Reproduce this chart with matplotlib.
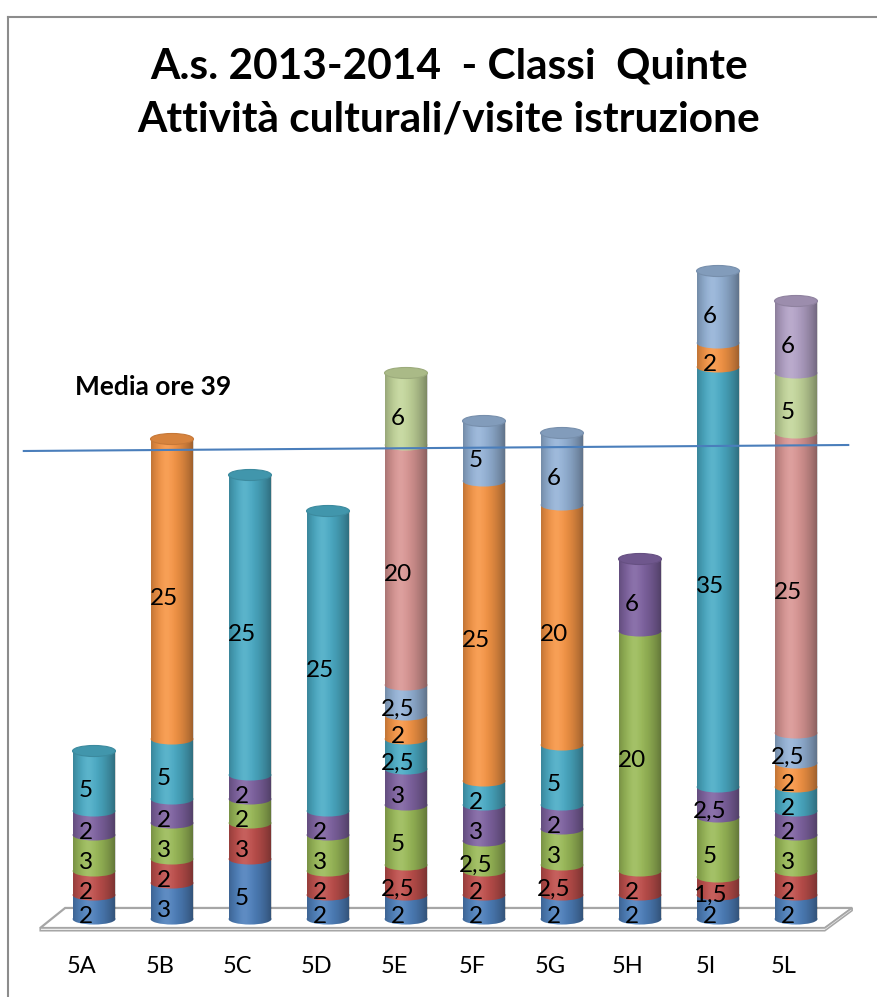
import numpy as np
import matplotlib
matplotlib.use('Agg')
import matplotlib.pyplot as plt
from matplotlib.patches import Ellipse, Polygon, PathPatch
from matplotlib.path import Path
from matplotlib.lines import Line2D
from matplotlib.transforms import ScaledTranslation
from matplotlib.colors import to_rgb

plt.rcParams['font.family'] = ['Lato', 'DejaVu Sans']

classi = ['5A', '5B', '5C', '5D', '5E', '5F', '5G', '5H', '5I', '5L']

# ore per voce, dal basso verso l'alto (0 = voce assente)
s_blu      = [2, 3, 5, 2, 2, 2, 2, 2, 2, 2]
s_rosso    = [2, 2, 3, 2, 2.5, 2, 2.5, 2, 1.5, 2]
s_verde    = [3, 3, 2, 3, 5, 2.5, 3, 20, 5, 3]
s_viola    = [2, 2, 2, 2, 3, 3, 2, 6, 2.5, 2]
s_acqua    = [5, 5, 25, 25, 2.5, 2, 5, 0, 35, 2]
s_arancio  = [0, 25, 0, 0, 2, 25, 20, 0, 2, 2]
s_celeste  = [0, 0, 0, 0, 2.5, 5, 6, 0, 6, 2.5]
s_rosa     = [0, 0, 0, 0, 20, 0, 0, 0, 0, 25]
s_verdino  = [0, 0, 0, 0, 6, 0, 0, 0, 0, 5]
s_lilla    = [0, 0, 0, 0, 0, 0, 0, 0, 0, 6]

media_ore = 39

serie = [s_blu, s_rosso, s_verde, s_viola, s_acqua,
         s_arancio, s_celeste, s_rosa, s_verdino, s_lilla]
colori = ['#4F81BD', '#C0504D', '#9BBB59', '#8064A2', '#4BACC6',
          '#F79646', '#95B3D7', '#D99694', '#C3D69B', '#B3A2C7']

W, H = 877, 997
fig = plt.figure(figsize=(W / 100, H / 100), dpi=100)
ax = fig.add_axes([8 / W, (H - 950) / H, (W - 8) / W, (950 - 160) / H])

x = np.arange(len(classi))
bw = 0.55          # larghezza cilindro
eb = 0.46          # semiasse minore ellissi (unita' y)

bottom = np.zeros(len(classi))
top_col = [None] * len(classi)
for vals, col in zip(serie, colori):
    vals = np.array(vals, dtype=float)
    ax.bar(x, vals, bw, bottom=bottom, color=col, linewidth=0, zorder=2)
    for i in range(len(classi)):
        if vals[i] > 0:
            ax.add_patch(Ellipse((x[i], bottom[i]), bw, 2 * eb, color=col,
                                 linewidth=0, zorder=2))
            top_col[i] = col
            lab = f"{vals[i]:g}".replace('.', ',')
            ax.annotate(lab, (x[i], bottom[i] + vals[i] / 2),
                        xytext=(-6, -7), textcoords='offset points',
                        ha='center', va='center', fontsize=17.5,
                        color='black', zorder=7)
    bottom += vals

totali = bottom

# ombreggiatura cilindrica
t = np.linspace(0, 1, 80)
dark = np.where(t < 0.38, 0.22 * ((0.38 - t) / 0.38) ** 2,
                0.38 * ((t - 0.38) / 0.62) ** 1.8)
light = 0.09 * np.exp(-((t - 0.36) / 0.17) ** 2)
img_dark = np.zeros((1, len(t), 4))
img_dark[0, :, 3] = dark
img_light = np.ones((1, len(t), 4))
img_light[0, :, 3] = light

th = np.linspace(0, -np.pi, 40)
for i in range(len(classi)):
    xl, xr = x[i] - bw / 2, x[i] + bw / 2
    verts = [(xl, 0), (xl, totali[i]), (xr, totali[i])]
    verts += list(zip(x[i] + bw / 2 * np.cos(th), eb * np.sin(th)))
    verts.append((xl, 0))
    clip = PathPatch(Path(verts), transform=ax.transData, facecolor='none',
                     edgecolor='none')
    ax.add_patch(clip)
    for img in (img_dark, img_light):
        im = ax.imshow(img, extent=[xl, xr, -eb, totali[i]], aspect='auto',
                       zorder=3, interpolation='bilinear')
        im.set_clip_path(clip)
    cap = np.array(to_rgb(top_col[i])) * 0.87
    ax.add_patch(Ellipse((x[i], totali[i]), bw, 2 * eb, facecolor=cap,
                         edgecolor=np.array(to_rgb(top_col[i])) * 0.8,
                         linewidth=0.8, zorder=4))

# pavimento
floor = Polygon([(-0.69, -0.75), (-0.37, 0.92), (9.72, 0.92), (9.37, -0.75)],
                closed=True, facecolor='white', edgecolor='#A6A6A6',
                linewidth=1.6, zorder=1)
ax.add_patch(floor)
ax.add_patch(Polygon([(-0.69, -0.75), (9.37, -0.75), (9.72, 0.92),
                      (9.72, 0.7), (9.37, -0.98), (-0.69, -0.98)],
                     closed=True, facecolor='#EDEDED', edgecolor='#A6A6A6',
                     linewidth=1.1, zorder=1))

# linea media
ax.plot([-0.9, 9.67], [media_ore, media_ore + 0.5], color='#4A7EBB',
        linewidth=1.5, zorder=6)

ax.set_xlim((8 - 94) / 78, (W - 94) / 78)
ax.set_ylim((919 - 950) / 12, (919 - 160) / 12)
ax.set_xticks(x, classi)
ax.set_yticks([])
ax.tick_params(axis='x', length=0, pad=4, labelsize=17)
off = ScaledTranslation(-12 / 100, 0, fig.dpi_scale_trans)
for tl in ax.get_xticklabels():
    tl.set_transform(tl.get_transform() + off)
for s in ax.spines.values():
    s.set_visible(False)
ax.patch.set_alpha(0)

fig.text(0.512, 1 - 78 / H, 'A.s. 2013-2014  - Classi  Quinte',
         ha='center', va='baseline', fontsize=30.5, fontweight='bold')
fig.text(0.512, 1 - 132 / H, 'Attività culturali/visite istruzione',
         ha='center', va='baseline', fontsize=30.5, fontweight='bold')
fig.text(75 / W, 1 - 395 / H, 'Media ore 39', ha='left', va='baseline',
         fontsize=19, fontweight='bold')

# cornice
fig.add_artist(Line2D([8 / W, 8 / W], [0, 1 - 17 / H], transform=fig.transFigure,
                      color='#8C8C8C', linewidth=1.5))
fig.add_artist(Line2D([8 / W, 1], [1 - 17 / H, 1 - 17 / H],
                      transform=fig.transFigure, color='#8C8C8C', linewidth=1.5))

fig.savefig('out.png', dpi=100)
